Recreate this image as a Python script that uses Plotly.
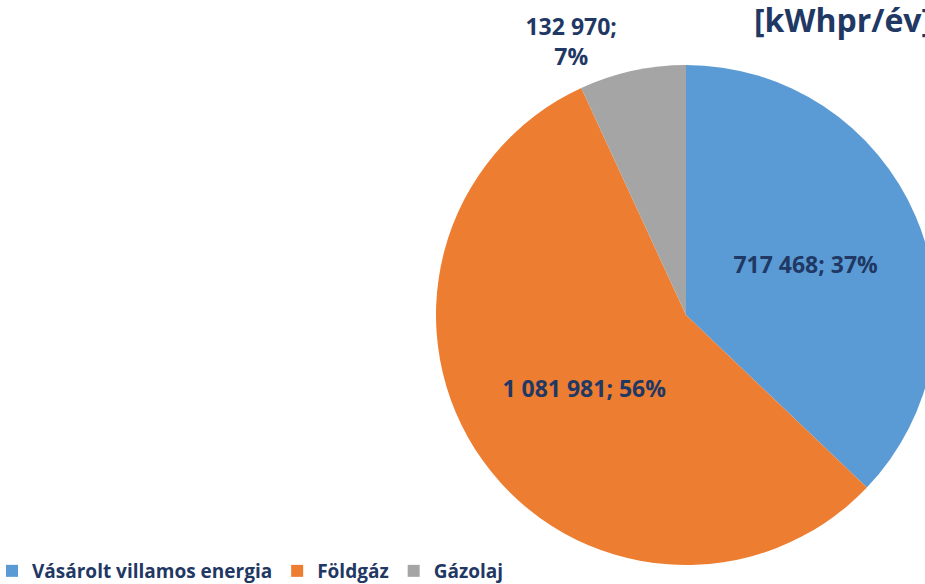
import plotly.graph_objects as go

labels = ["Vásárolt villamos energia", "Földgáz", "Gázolaj"]
values = [717468, 1081981, 132970]
percents = ["37%", "56%", "7%"]
colors = ["#5B9BD5", "#ED7D31", "#A5A5A5"]
title_text = "[kWhpr/év]"

def fmt(v):
    return f"{v:,}".replace(",", " ")

texts = [f"{fmt(values[0])}; {percents[0]}",
         f"{fmt(values[1])}; {percents[1]}",
         f"{fmt(values[2])};<br>{percents[2]}"]

W, H = 1000, 584
FONT = "Open Sans"
NAVY = "#1F3864"

fig = go.Figure(go.Pie(
    labels=labels, values=values, text=texts,
    textinfo="text", texttemplate="%{text}",
    textposition=["inside", "inside", "outside"],
    insidetextorientation="horizontal",
    sort=False, direction="clockwise", rotation=0,
    marker=dict(colors=colors, line=dict(color="white", width=0)),
    textfont=dict(family=FONT, size=23, color=NAVY, weight="bold"),
    domain=dict(x=[436 / W, 936 / W], y=[19 / H, 519 / H]),
    hoverinfo="label+value+percent",
))

fig.update_layout(
    width=W, height=H,
    margin=dict(l=0, r=0, t=0, b=0, autoexpand=False),
    paper_bgcolor="white",
    uniformtext=dict(minsize=23, mode="show"),
    title=dict(text=title_text, x=754 / W, xanchor="left", y=1 - 10 / H, yanchor="top",
               font=dict(family=FONT, size=32, color=NAVY, weight="bold")),
    legend=dict(orientation="h", x=-8 / W, xanchor="left", y=-6 / H, yanchor="bottom",
                font=dict(family=FONT, size=19, color=NAVY, weight="bold"),
                traceorder="normal"),
    showlegend=True,
)

fig.write_html("out.html", post_script="document.body.style.margin='0';document.body.style.overflow='hidden';document.documentElement.style.overflow='hidden';")
